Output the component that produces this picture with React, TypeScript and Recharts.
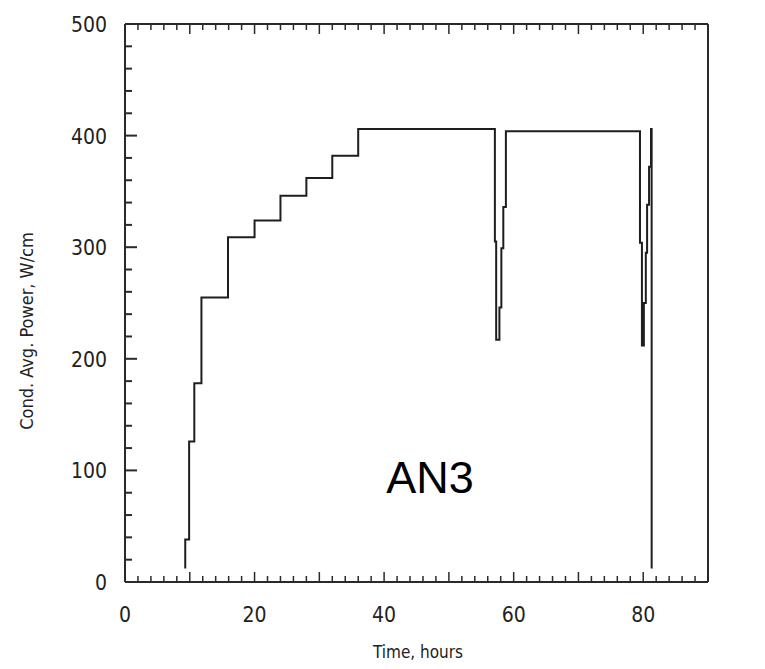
import { LineChart, Line, XAxis, YAxis } from "recharts";

// step points (hours, W/cm)
const TIME_H = [9.3, 9.3, 9.9, 10.7, 11.8, 15.9, 20.0, 24.0, 28.0, 32.0, 36.0, 57.1, 57.3, 57.8, 58.1, 58.4, 58.8, 79.5, 79.8, 80.1, 80.4, 80.6, 80.9, 81.2, 81.3];
const POWER_WCM = [12, 38, 126, 178, 255, 309, 324, 346, 362, 382, 406, 305, 217, 246, 299, 336, 404, 304, 212, 250, 295, 338, 372, 406, 12];

const X_LABELS = [0, 20, 40, 60, 80];
const Y_LABELS = [0, 100, 200, 300, 400, 500];

const data = TIME_H.map((t, i) => ({ t, p: POWER_WCM[i] }));

// minor ticks every 2 h / 20 W/cm
const X_TICKS = Array.from({ length: 46 }, (_, i) => i * 2);
const Y_TICKS = Array.from({ length: 26 }, (_, i) => i * 20);

const INK = "#2a2a2a";
const NARROW = "'Liberation Sans Narrow', 'DejaVu Sans Condensed', 'Arial Narrow', sans-serif";
const PLAIN = "'Liberation Sans', Arial, sans-serif";

function BottomTick({ x, y, payload }: any) {
  const v = payload.value;
  const len = v % 10 === 0 ? 10 : 6;
  return (
    <g>
      <line x1={x} y1={y} x2={x} y2={y - len} stroke={INK} strokeWidth={1.5} />
      {X_LABELS.includes(v) && (
        <text x={x} y={y + 40} textAnchor="middle" fontSize={21} fontFamily={NARROW} fill="#222">{v}</text>
      )}
    </g>
  );
}

function TopTick({ x, y, payload }: any) {
  const len = payload.value % 10 === 0 ? 10 : 6;
  return <line x1={x} y1={y} x2={x} y2={y + len} stroke={INK} strokeWidth={1.5} />;
}

function LeftTick({ x, y, payload }: any) {
  const v = payload.value;
  const len = v % 100 === 0 ? 12 : 7;
  return (
    <g>
      <line x1={x} y1={y} x2={x + len} y2={y} stroke={INK} strokeWidth={2} />
      {Y_LABELS.includes(v) && (
        <text x={x - 18} y={y + 8} textAnchor="end" fontSize={21} fontFamily={NARROW} fill="#222">{v}</text>
      )}
    </g>
  );
}

function RightTick({ x, y, payload }: any) {
  const v = payload.value;
  const len = v % 100 === 0 ? 12 : 7;
  return (
    <g>
      <line x1={x} y1={y} x2={x - len} y2={y} stroke={INK} strokeWidth={2} />
      {Y_LABELS.includes(v) && (
        <text x={x + 16} y={y + 7} textAnchor="start" fontSize={19} fontFamily={PLAIN} fill="#222">{v}</text>
      )}
    </g>
  );
}

export default function App() {
  return (
    <div style={{ position: "absolute", left: 0, top: 0, width: 765, height: 669, background: "#fff" }}>
      <LineChart width={765} height={669} data={data} margin={{ top: 14, right: 12, bottom: 47, left: 65 }}>
        <XAxis dataKey="t" type="number" domain={[0, 90]} ticks={X_TICKS} interval={0}
          tickSize={0} tickMargin={0} tick={<BottomTick />} height={40}
          axisLine={{ stroke: INK, strokeWidth: 2 }} allowDataOverflow />
        <XAxis xAxisId="top" orientation="top" dataKey="t" type="number" domain={[0, 90]} ticks={X_TICKS} interval={0}
          tickSize={0} tickMargin={0} tick={<TopTick />} height={10}
          axisLine={{ stroke: INK, strokeWidth: 2 }} allowDataOverflow />
        <YAxis type="number" domain={[0, 500]} ticks={Y_TICKS} interval={0}
          tickSize={0} tickMargin={0} tick={<LeftTick />} width={60}
          axisLine={{ stroke: INK, strokeWidth: 2 }} />
        <YAxis yAxisId="right" orientation="right" type="number" domain={[0, 500]} ticks={Y_TICKS} interval={0}
          tickSize={0} tickMargin={0} tick={<RightTick />} width={45}
          axisLine={{ stroke: INK, strokeWidth: 2 }} />
        <Line type="stepAfter" dataKey="p" stroke="#1e1e1e" strokeWidth={2} dot={false} isAnimationActive={false} />
      </LineChart>

      <div style={{ position: "absolute", left: 26, top: 331, transform: "translate(-50%, -50%) rotate(-90deg)",
        whiteSpace: "nowrap", fontFamily: NARROW, fontSize: 18, color: "#222" }}>
        Cond. Avg. Power, W/cm
      </div>
      <div style={{ position: "absolute", left: 418, top: 652, transform: "translate(-50%, -50%)",
        whiteSpace: "nowrap", fontFamily: NARROW, fontSize: 17, color: "#222" }}>
        Time, hours
      </div>
      <div style={{ position: "absolute", left: 430, top: 478, transform: "translate(-50%, -50%)",
        whiteSpace: "nowrap", fontFamily: PLAIN, fontSize: 45, color: "#000" }}>
        AN3
      </div>
    </div>
  );
}
